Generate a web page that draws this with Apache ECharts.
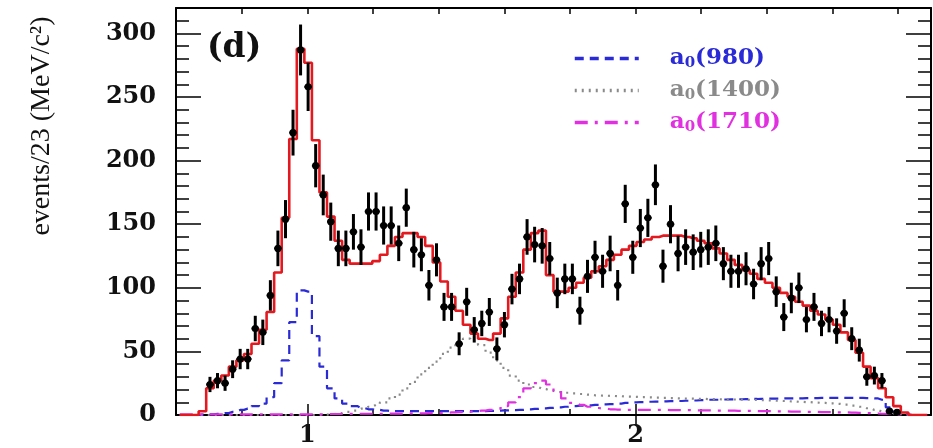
<!DOCTYPE html>
<html>
<head>
<meta charset="utf-8">
<script src="https://cdn.jsdelivr.net/npm/echarts@6/dist/echarts.min.js"></script>
<style>
  html, body { margin: 0; padding: 0; background: #fff; }
  #chart { width: 933px; height: 448px; }
</style>
</head>
<body>
<div id="chart"></div>
<script>
// binning: 100 bins of 23 MeV from 0.6 to 2.9 GeV
const binLo = 0.6;
const binW = 0.023;
const nBins = 100;

// measured counts, bins 4..95
const dataFirstBin = 4;
const counts = [24, 27, 25, 36, 44, 44, 68, 65, 94, 131,
  154, 222, 287, 258, 196, 173, 152, 131, 131, 144,
  132, 160, 160, 149, 149, 135, 163, 130, 126, 102,
  122, 85, 85, 56, 89, 67, 72, 81, 52, 71,
  99, 107, 140, 134, 133, 123, 96, 107, 107, 82,
  109, 124, 113, 127, 102, 166, 124, 147, 155, 181,
  117, 150, 127, 132, 128, 130, 132, 135, 119, 113,
  113, 115, 103, 119, 123, 97, 77, 92, 100, 75,
  85, 72, 75, 66, 80, 60, 51, 30, 31, 27,
  3, 2];
const errors = [6, 6, 6, 7, 8, 8, 10, 10, 12, 14,
  15, 18, 20, 19, 17, 16, 15, 14, 14, 14,
  14, 15, 15, 15, 15, 14, 15, 14, 13, 12,
  13, 11, 11, 9, 11, 10, 10, 11, 9, 10,
  12, 12, 14, 14, 14, 13, 12, 12, 12, 11,
  13, 13, 13, 14, 12, 15, 13, 15, 15, 16,
  13, 15, 14, 14, 14, 14, 14, 14, 13, 13,
  13, 13, 12, 13, 13, 12, 11, 12, 12, 10,
  11, 10, 10, 10, 11, 9, 9, 7, 7, 6,
  2, 2];

// total fit (red histogram), all 100 bins
const fitTotal = [0, 0, 0, 3, 21, 27, 31, 38, 43, 48,
  56, 67, 81, 112, 155, 217, 288, 277, 216, 175,
  156, 137, 122, 119, 119, 119, 121, 126, 133, 140,
  143, 143, 140, 133, 120, 105, 93, 82, 71, 64,
  60, 59, 64, 76, 93, 112, 130, 143, 145, 110,
  97, 97, 100, 104, 108, 113, 117, 122, 126, 130,
  133, 136, 138, 140, 141, 141, 141, 140, 139, 137,
  135, 131, 127, 122, 118, 114, 111, 107, 104, 100,
  96, 93, 89, 86, 82, 79, 75, 71, 65, 59,
  49, 38, 29, 21, 14, 7, 2, 0, 0, 0];

// a0(980) component
const a980 = [0, 0, 0, 0.3, 0.6, 1, 1.5, 2.5, 4, 5,
  7, 9, 14, 25, 43, 73, 98, 97, 62, 38,
  21, 13, 9, 7, 5.5, 4.5, 4, 3.5, 3, 3,
  3, 3, 3, 3, 3, 3, 3, 3, 3, 3,
  3, 3.2, 3.4, 3.6, 3.8, 4, 4.4, 4.8, 5.2, 5.6,
  6, 6.5, 7, 7.3, 7.6, 8, 8.3, 8.6, 9, 9.5,
  10, 10.2, 10.4, 10.5, 10.7, 10.9, 11, 11.2, 11.4, 11.7,
  12, 12, 12.2, 12.3, 12.4, 12.5, 12.6, 12.7, 12.8, 12.9,
  13, 13, 13.1, 13.2, 13.3, 13.5, 13.5, 13.5, 13.5, 13.5,
  13.5, 13.3, 13, 12, 6, 2, 0.5, 0, 0, 0];

// a0(1400) component
const a1400 = [0, 0, 0, 0, 0, 0, 0, 0, 0, 0,
  0, 0, 0, 0, 0, 0, 0, 0, 0, 0.3,
  0.8, 1.5, 2.5, 3.5, 5, 6.5, 8, 10, 13, 16,
  21, 26, 32, 37, 42, 48, 53, 57, 60, 58,
  55, 49, 43, 37, 31, 27, 24, 22, 20.5, 19,
  18, 17.5, 17, 16.5, 16, 15.5, 15.2, 15, 14.8, 14.5,
  14.3, 14, 13.8, 13.6, 13.4, 13.2, 13, 12.9, 12.8, 12.7,
  12.5, 12.4, 12.3, 12.2, 12.1, 12, 11.8, 11.6, 11.4, 11.2,
  11, 10.7, 10.4, 10.1, 9.8, 9.5, 9.1, 8.7, 8.2, 7.4,
  6.5, 5.3, 4, 2.5, 1.5, 0.6, 0, 0, 0, 0];

// a0(1710) component
const a1710 = [0.5, 0.5, 0.5, 0.5, 0.5, 0.5, 0.5, 0.5, 0.5, 0.5,
  0.5, 0.5, 0.5, 0.5, 0.5, 0.5, 0.5, 0.5, 0.5, 0.5,
  0.8, 0.8, 0.9, 0.9, 1, 1, 1, 1, 1.1, 1.1,
  1.2, 1.2, 1.3, 1.4, 1.5, 1.7, 2, 2.2, 2.5, 3,
  3.5, 4, 5, 7, 10, 14, 21, 25, 27, 24,
  19, 13, 9.5, 8, 6.5, 5.5, 5, 4.5, 4.2, 4,
  4, 4, 4, 4, 4, 3.9, 3.8, 3.8, 3.7, 3.7,
  3.6, 3.5, 3.5, 3.4, 3.3, 3.2, 3.1, 3, 3, 2.9,
  2.8, 2.7, 2.6, 2.5, 2.4, 2.3, 2.2, 2.1, 2, 1.8,
  1.6, 1.4, 1.2, 1, 0.8, 0.5, 0.2, 0, 0, 0];

// tick positions
const xMinorTicks = [0.6, 0.8, 1.0, 1.2, 1.4, 1.6, 1.8, 2.0, 2.2, 2.4, 2.6, 2.8];
const xMajorTicks = [1, 2];
const yMinorTicks = [10, 20, 30, 40, 60, 70, 80, 90, 110, 120, 130, 140, 160, 170, 180, 190,
  210, 220, 230, 240, 260, 270, 280, 290, 310];
const yMajorTicks = [0, 50, 100, 150, 200, 250, 300];

const centers = [];
for (let i = 0; i < nBins; i++) centers.push(+(binLo + binW * (i + 0.5)).toFixed(4));

const pairs = arr => arr.map((v, i) => [centers[i], v]);
const points = counts.map((v, i) => [centers[i + dataFirstBin], v, errors[i]]);

const chart = echarts.init(document.getElementById('chart'));

const serif = 'DejaVu Serif';
const tickStyle = { color: '#000', width: 1.5 };

function xAxisPair(pos) {
  return [
    {
      type: 'value', position: pos, min: 0.6, max: 2.9,
      axisLine: { show: true, onZero: false, lineStyle: { color: '#000', width: 2 } },
      axisTick: { show: true, inside: true, length: 6, customValues: xMinorTicks, lineStyle: tickStyle },
      axisLabel: pos === 'bottom'
        ? { show: true, customValues: xMajorTicks, margin: 9, color: '#111', fontFamily: serif, fontWeight: 'bold', fontSize: 24 }
        : { show: false },
      splitLine: { show: false }
    },
    {
      type: 'value', position: pos, min: 0.6, max: 2.9,
      axisLine: { show: false },
      axisTick: { show: true, inside: true, length: 11, customValues: xMajorTicks, lineStyle: tickStyle },
      axisLabel: { show: false },
      splitLine: { show: false }
    }
  ];
}

function yAxisPair(pos) {
  return [
    {
      type: 'value', position: pos, min: 0, max: 320,
      axisLine: { show: true, onZero: false, lineStyle: { color: '#000', width: 2 } },
      axisTick: { show: true, inside: true, length: 13, customValues: yMinorTicks, lineStyle: tickStyle },
      axisLabel: pos === 'left'
        ? { show: true, customValues: yMajorTicks, margin: 20, color: '#111', fontFamily: serif, fontWeight: 'bold', fontSize: 24 }
        : { show: false },
      splitLine: { show: false }
    },
    {
      type: 'value', position: pos, min: 0, max: 320,
      axisLine: { show: false },
      axisTick: { show: true, inside: true, length: 25, customValues: yMajorTicks, lineStyle: tickStyle },
      axisLabel: { show: false },
      splitLine: { show: false }
    }
  ];
}

const subName = {
  'a0(980)': '{a|a}{s|0}{a|(980)}',
  'a0(1400)': '{a|a}{s|0}{a|(1400)}',
  'a0(1710)': '{a|a}{s|0}{a|(1710)}'
};

const option = {
  backgroundColor: '#fff',
  animation: false,
  grid: { left: 176, right: 2, top: 8, bottom: 33 },
  xAxis: [...xAxisPair('bottom'), ...xAxisPair('top')],
  yAxis: [...yAxisPair('left'), ...yAxisPair('right')],
  legend: {
    orient: 'vertical',
    left: 568,
    top: 42,
    itemWidth: 64,
    itemHeight: 14,
    itemGap: 8,
    selectedMode: false,
    lineStyle: { width: 3.5 },
    itemStyle: { opacity: 0 },
    data: [
      { name: 'a0(980)', textStyle: { color: '#2a2ad6' } },
      { name: 'a0(1400)', textStyle: { color: '#8a8a8a' } },
      { name: 'a0(1710)', textStyle: { color: '#e030e0' } }
    ],
    formatter: name => subName[name],
    textStyle: {
      padding: [0, 0, 0, 26],
      rich: {
        a: { fontFamily: serif, fontWeight: 'bold', fontSize: 23 },
        s: { fontFamily: serif, fontWeight: 'bold', fontSize: 15, verticalAlign: 'bottom', padding: [10, 0, 0, 0] }
      }
    }
  },
  graphic: [
    {
      type: 'text', x: 42, y: 126, rotation: Math.PI / 2,
      style: {
        text: 'events/23 (MeV/c²)', fill: '#111',
        font: '28px "Liberation Serif"', align: 'center', verticalAlign: 'middle'
      }
    },
    {
      type: 'text', x: 207, y: 48,
      style: {
        text: '(d)', fill: '#111',
        font: 'bold 33px "DejaVu Serif"', align: 'left', verticalAlign: 'middle'
      }
    }
  ],
  series: [
    {
      name: 'a0(980)', type: 'line', step: 'middle', symbol: 'none', z: 2,
      lineStyle: { color: '#2a2ad6', width: 2.2, type: [9, 6] },
      itemStyle: { color: '#2a2ad6' },
      data: pairs(a980)
    },
    {
      name: 'a0(1400)', type: 'line', step: 'middle', symbol: 'none', z: 2,
      lineStyle: { color: '#8a8a8a', width: 2.2, type: [2, 5] },
      itemStyle: { color: '#8a8a8a' },
      data: pairs(a1400)
    },
    {
      name: 'a0(1710)', type: 'line', step: 'middle', symbol: 'none', z: 2,
      lineStyle: { color: '#e030e0', width: 2.2, type: [13, 7, 3, 7] },
      itemStyle: { color: '#e030e0' },
      data: pairs(a1710)
    },
    {
      name: 'fit', type: 'line', step: 'middle', symbol: 'none', z: 3,
      lineStyle: { color: '#e4191f', width: 2.6 },
      data: pairs(fitTotal)
    },
    {
      name: 'data', type: 'custom', z: 4, clip: true,
      renderItem: (params, api) => {
        const x = api.value(0), y = api.value(1), e = api.value(2);
        const p = api.coord([x, y]);
        const top = api.coord([x, y + e]);
        const bot = api.coord([x, Math.max(0, y - e)]);
        const hw = api.size([binW, 0])[0] / 2;
        return {
          type: 'group',
          children: [
            { type: 'line', shape: { x1: p[0], y1: top[1], x2: p[0], y2: bot[1] },
              style: { stroke: '#000', lineWidth: 3 } },
            { type: 'line', shape: { x1: p[0] - hw, y1: p[1], x2: p[0] + hw, y2: p[1] },
              style: { stroke: '#000', lineWidth: 2 } },
            { type: 'circle', shape: { cx: p[0], cy: p[1], r: 3.6 }, style: { fill: '#000' } }
          ]
        };
      },
      encode: { x: 0, y: 1 },
      data: points
    }
  ]
};

chart.setOption(option);
</script>
</body>
</html>
